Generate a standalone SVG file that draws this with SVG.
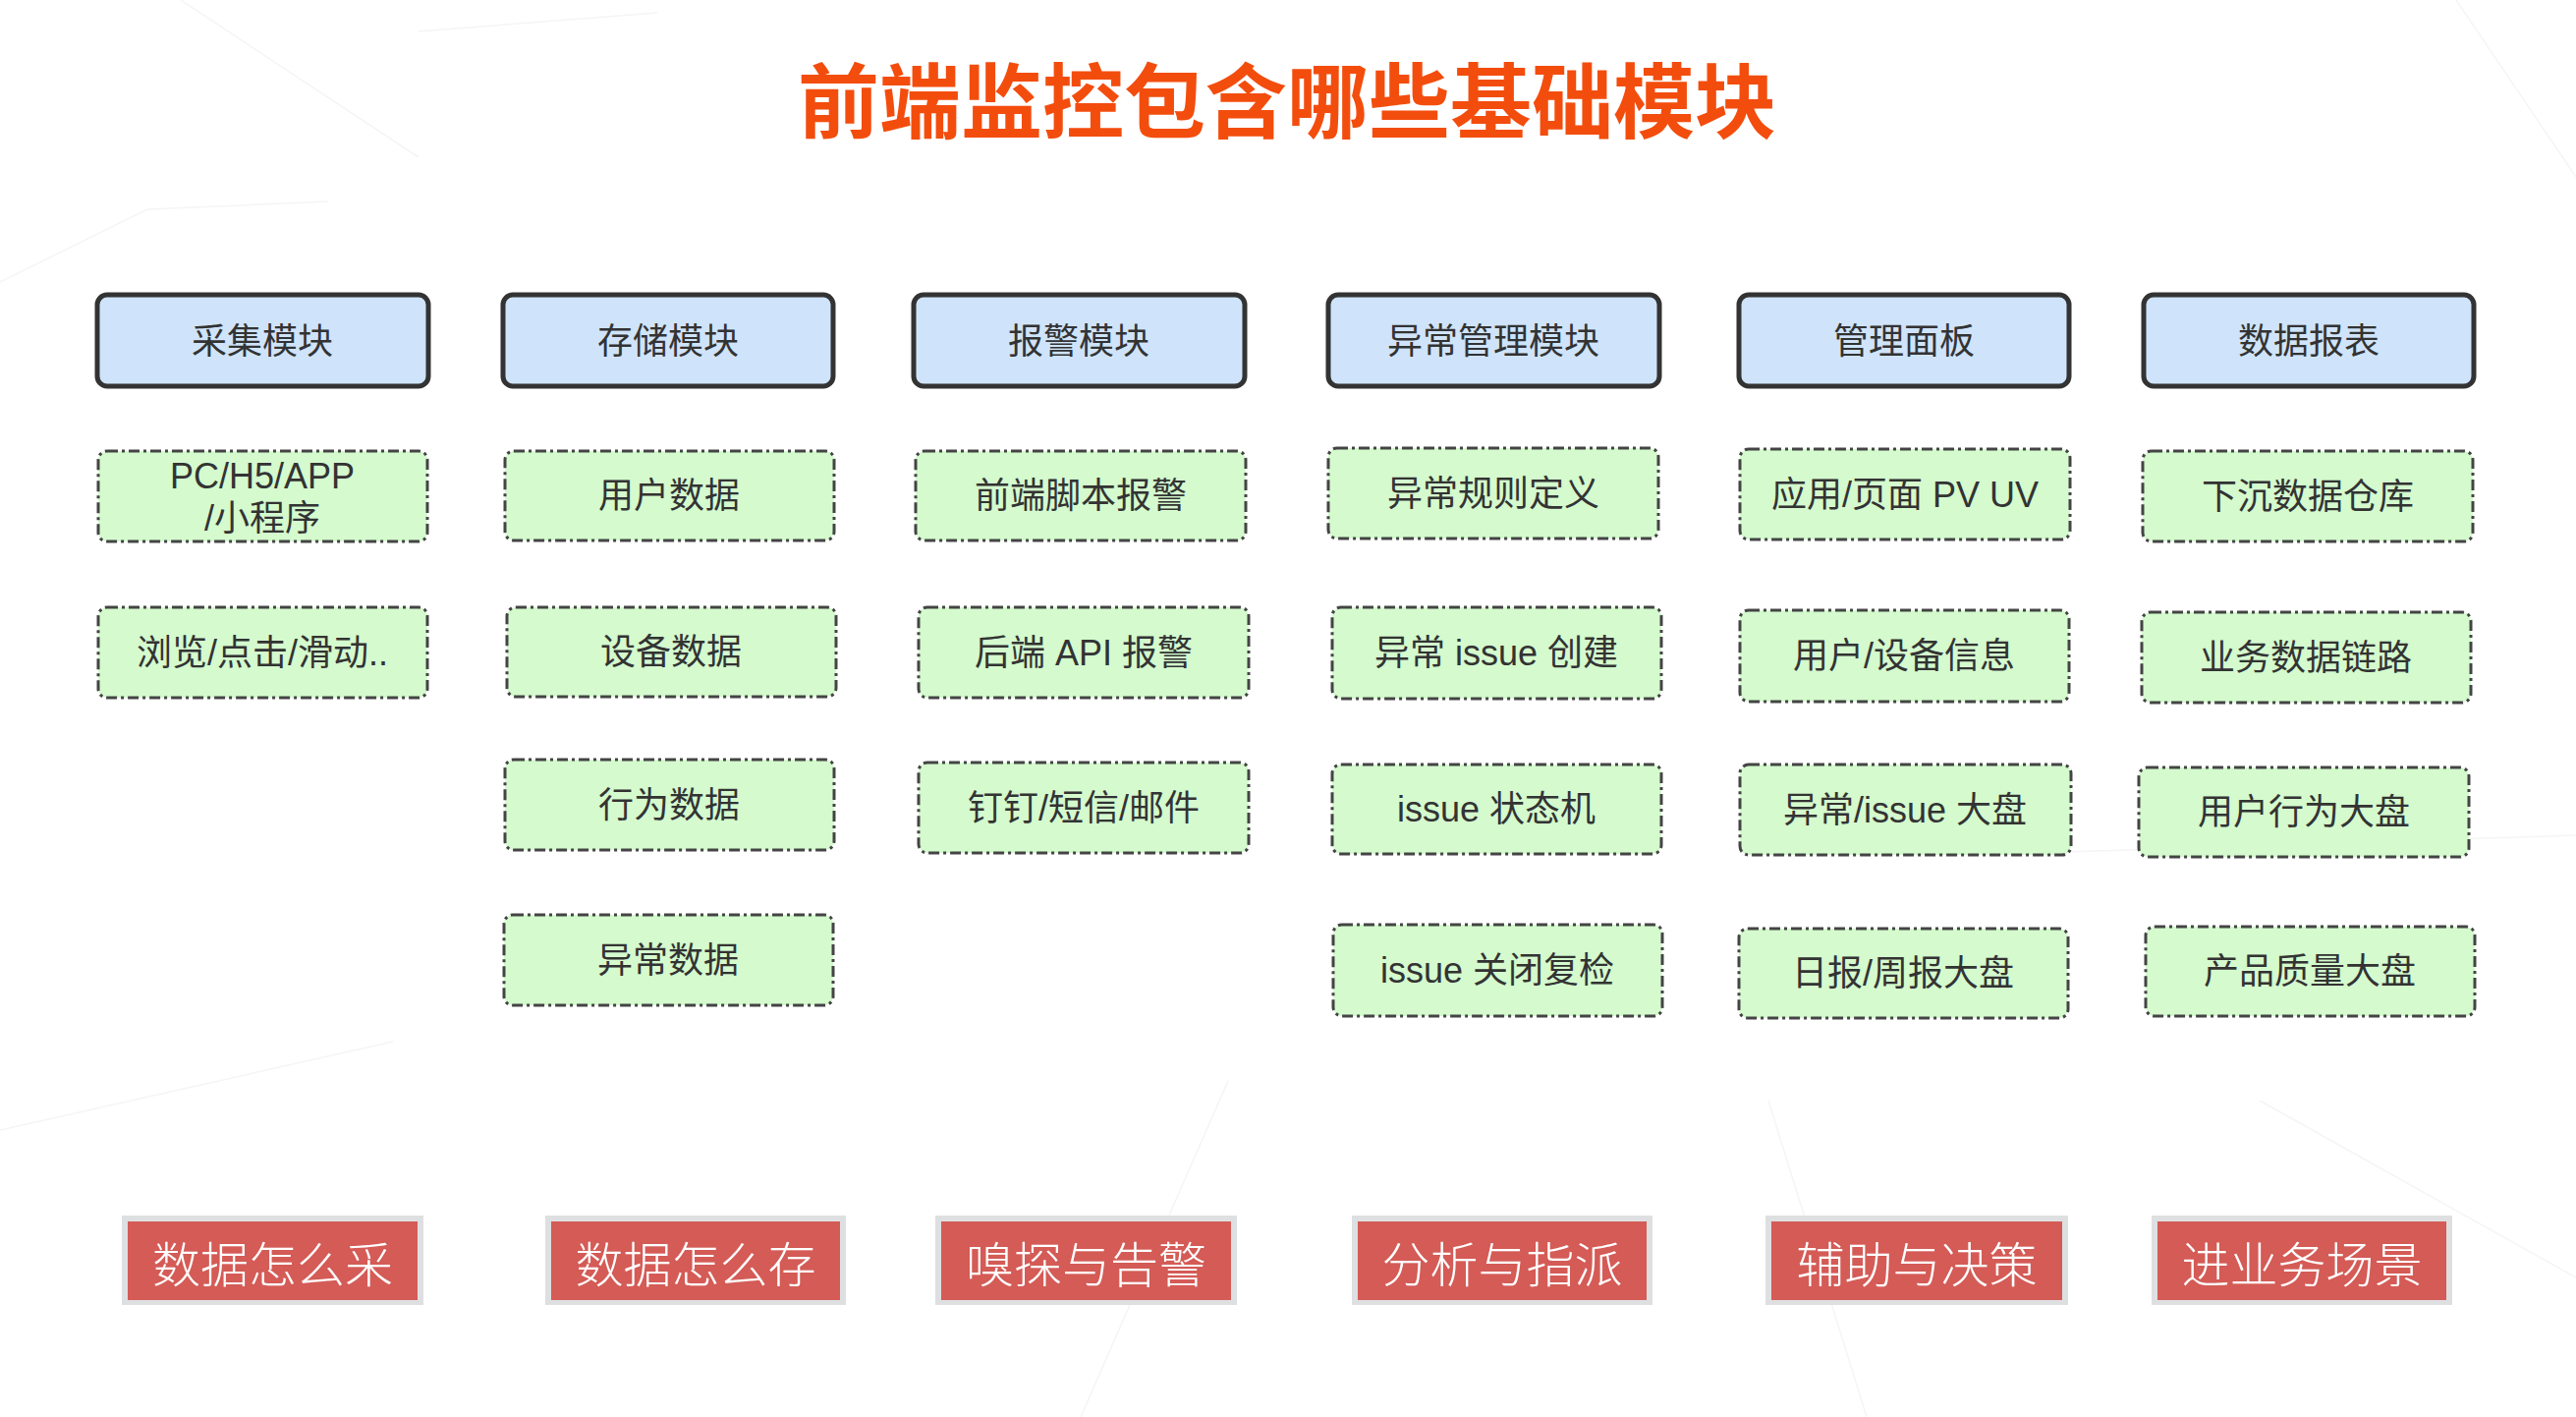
<svg xmlns="http://www.w3.org/2000/svg" width="2622" height="1442" viewBox="0 0 2622 1442">
<defs>
<style>
.bg line{stroke:#f5f5f5;stroke-width:1.5}
.hdr rect{fill:#CFE4FA;stroke:#333;stroke-width:5}
.item rect{fill:#D4FACE;stroke:#444;stroke-width:3;stroke-dasharray:11 4 3 4}
.t{font-family:"Liberation Sans","Noto Sans CJK SC",sans-serif;font-size:36px;fill:#333;text-anchor:middle;dominant-baseline:central}
.tag .o{fill:#DEDFE1}
.tag .i{fill:#D45B56}
.tag text{font-family:"Noto Sans CJK SC",sans-serif;font-size:49px;font-weight:300;fill:#fff;text-anchor:middle;dominant-baseline:central}
.title{font-family:"Noto Sans CJK SC",sans-serif;font-size:83px;font-weight:bold;fill:#F34D0E;text-anchor:middle;dominant-baseline:central}
</style>
</defs>
<rect width="2622" height="1442" fill="#fff"/>
<g class="bg">
<line x1="0" y1="287" x2="150" y2="213"/>
<line x1="150" y1="213" x2="334" y2="205"/>
<line x1="426" y1="32" x2="669" y2="13"/>
<line x1="184" y1="0" x2="426" y2="160"/>
<line x1="2010" y1="870" x2="2622" y2="850"/>
<line x1="2500" y1="0" x2="2622" y2="180"/>
<line x1="0" y1="1150" x2="400" y2="1060"/>
<line x1="1100" y1="1442" x2="1250" y2="1100"/>
<line x1="1900" y1="1442" x2="1800" y2="1120"/>
<line x1="2300" y1="1120" x2="2622" y2="1300"/>
</g>
<text class="title" x="1310" y="98">前端监控包含哪些基础模块</text>
<g id="headers">
<g id="h1" class="hdr"><rect x="99" y="300" width="337" height="93" rx="10"/><text class="t" x="267" y="347">采集模块</text></g>
<g id="h2" class="hdr"><rect x="512" y="300" width="336" height="93" rx="10"/><text class="t" x="680" y="347">存储模块</text></g>
<g id="h3" class="hdr"><rect x="930" y="300" width="337" height="93" rx="10"/><text class="t" x="1098" y="347">报警模块</text></g>
<g id="h4" class="hdr"><rect x="1352" y="300" width="337" height="93" rx="10"/><text class="t" x="1520" y="347">异常管理模块</text></g>
<g id="h5" class="hdr"><rect x="1770" y="300" width="336" height="93" rx="10"/><text class="t" x="1938" y="347">管理面板</text></g>
<g id="h6" class="hdr"><rect x="2182" y="300" width="336" height="93" rx="10"/><text class="t" x="2350" y="347">数据报表</text></g>
</g>
<g id="items">
<g id="c1r1" class="item"><rect x="100" y="459" width="335" height="92" rx="9"/><text class="t" x="267" y="484">PC/H5/APP</text><text class="t" x="267" y="527">/小程序</text></g>
<g id="c1r2" class="item"><rect x="100" y="618" width="335" height="92" rx="9"/><text class="t" x="267" y="664" font-size="37">浏览/点击/滑动..</text></g>
<g id="c2r1" class="item"><rect x="514" y="459" width="335" height="91" rx="9"/><text class="t" x="681" y="504">用户数据</text></g>
<g id="c2r2" class="item"><rect x="516" y="618" width="335" height="91" rx="9"/><text class="t" x="683" y="663">设备数据</text></g>
<g id="c2r3" class="item"><rect x="514" y="773" width="335" height="92" rx="9"/><text class="t" x="681" y="819">行为数据</text></g>
<g id="c2r4" class="item"><rect x="513" y="931" width="335" height="92" rx="9"/><text class="t" x="680" y="977">异常数据</text></g>
<g id="c3r1" class="item"><rect x="932" y="459" width="336" height="91" rx="9"/><text class="t" x="1100" y="504">前端脚本报警</text></g>
<g id="c3r2" class="item"><rect x="935" y="618" width="336" height="92" rx="9"/><text class="t" x="1103" y="664">后端 API 报警</text></g>
<g id="c3r3" class="item"><rect x="935" y="776" width="336" height="92" rx="9"/><text class="t" x="1103" y="822">钉钉/短信/邮件</text></g>
<g id="c4r1" class="item"><rect x="1352" y="456" width="336" height="92" rx="9"/><text class="t" x="1520" y="502">异常规则定义</text></g>
<g id="c4r2" class="item"><rect x="1356" y="618" width="335" height="93" rx="9"/><text class="t" x="1523" y="664">异常 issue 创建</text></g>
<g id="c4r3" class="item"><rect x="1356" y="778" width="335" height="91" rx="9"/><text class="t" x="1523" y="823">issue 状态机</text></g>
<g id="c4r4" class="item"><rect x="1357" y="941" width="335" height="93" rx="9"/><text class="t" x="1524" y="987">issue 关闭复检</text></g>
<g id="c5r1" class="item"><rect x="1771" y="457" width="336" height="92" rx="9"/><text class="t" x="1939" y="503">应用/页面 PV UV</text></g>
<g id="c5r2" class="item"><rect x="1771" y="621" width="335" height="93" rx="9"/><text class="t" x="1938" y="667">用户/设备信息</text></g>
<g id="c5r3" class="item"><rect x="1771" y="778" width="337" height="92" rx="9"/><text class="t" x="1939" y="824">异常/issue 大盘</text></g>
<g id="c5r4" class="item"><rect x="1770" y="945" width="335" height="91" rx="9"/><text class="t" x="1937" y="990">日报/周报大盘</text></g>
<g id="c6r1" class="item"><rect x="2181" y="459" width="336" height="92" rx="9"/><text class="t" x="2349" y="505">下沉数据仓库</text></g>
<g id="c6r2" class="item"><rect x="2180" y="623" width="335" height="92" rx="9"/><text class="t" x="2347" y="669">业务数据链路</text></g>
<g id="c6r3" class="item"><rect x="2177" y="781" width="336" height="91" rx="9"/><text class="t" x="2345" y="826">用户行为大盘</text></g>
<g id="c6r4" class="item"><rect x="2184" y="943" width="335" height="91" rx="9"/><text class="t" x="2351" y="988">产品质量大盘</text></g>
</g>
<g id="tags">
<g id="t1" class="tag"><rect class="o" x="124" y="1237" width="307" height="91"/><rect class="i" x="130" y="1243" width="295" height="80"/><text x="277.5" y="1283">数据怎么采</text></g>
<g id="t2" class="tag"><rect class="o" x="555" y="1237" width="306" height="91"/><rect class="i" x="561" y="1243" width="294" height="80"/><text x="708" y="1283">数据怎么存</text></g>
<g id="t3" class="tag"><rect class="o" x="952" y="1237" width="307" height="91"/><rect class="i" x="958" y="1243" width="295" height="80"/><text x="1105.5" y="1283">嗅探与告警</text></g>
<g id="t4" class="tag"><rect class="o" x="1376" y="1237" width="306" height="91"/><rect class="i" x="1382" y="1243" width="294" height="80"/><text x="1529" y="1283">分析与指派</text></g>
<g id="t5" class="tag"><rect class="o" x="1797" y="1237" width="308" height="91"/><rect class="i" x="1803" y="1243" width="296" height="80"/><text x="1951" y="1283">辅助与决策</text></g>
<g id="t6" class="tag"><rect class="o" x="2190" y="1237" width="306" height="91"/><rect class="i" x="2196" y="1243" width="294" height="80"/><text x="2343" y="1283">进业务场景</text></g>
</g>
<g id="connectors"></g>
</svg>
